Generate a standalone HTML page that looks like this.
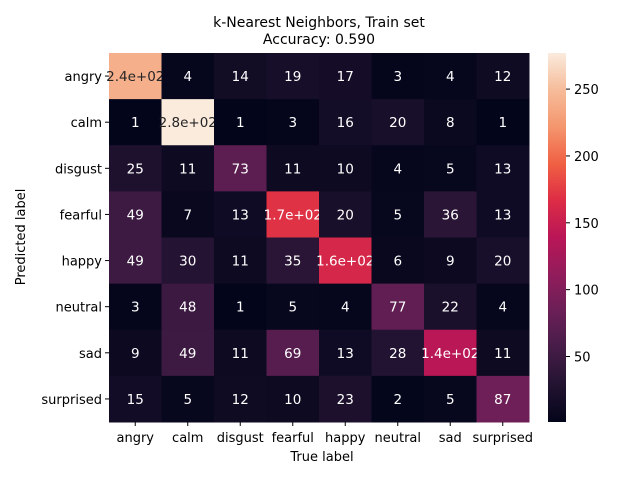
<!DOCTYPE html>
<html><head><meta charset="utf-8"><style>
html,body{margin:0;padding:0;background:#fff;}
svg{display:block;font-family:"DejaVu Sans","Liberation Sans",sans-serif;}
</style></head><body>
<svg id="chart" width="640" height="480" viewBox="0 0 640 480">
<defs><linearGradient id="cbgrad" x1="0" y1="1" x2="0" y2="0"></linearGradient></defs>
<text x="319" y="27" text-anchor="middle" font-size="14">k-Nearest Neighbors, Train set</text>
<text x="319" y="44" text-anchor="middle" font-size="14">Accuracy: 0.590</text>
<g id="cells"></g>
<g id="xticks"></g>
<g id="yticks"></g>
<g id="cbar"></g>
<text x="322" y="461" text-anchor="middle" font-size="13">True label</text>
<text x="0" y="0" text-anchor="middle" font-size="13" transform="translate(25,237) rotate(-90)">Predicted label</text>
</svg>
<script>
const categories = ["angry","calm","disgust","fearful","happy","neutral","sad","surprised"];
const row_angry = [240,4,14,19,17,3,4,12];
const row_calm = [1,277,1,3,16,20,8,1];
const row_disgust = [25,11,73,11,10,4,5,13];
const row_fearful = [49,7,13,170,20,5,36,13];
const row_happy = [49,30,11,35,160,6,9,20];
const row_neutral = [3,48,1,5,4,77,22,4];
const row_sad = [9,49,11,69,13,28,140,11];
const row_surprised = [15,5,12,10,23,2,5,87];
const matrix = [row_angry,row_calm,row_disgust,row_fearful,row_happy,row_neutral,row_sad,row_surprised];
const cbarTicks = [50,100,150,200,250];

const NS="http://www.w3.org/2000/svg";
const X0=109,X1=529,Y0=53,Y1=422;
const flat=matrix.flat();
const vmin=Math.min(...flat), vmax=Math.max(...flat);
const cw=(X1-X0)/categories.length, ch=(Y1-Y0)/categories.length;
const stops=[[0,"#03051A"],[0.1,"#221331"],[0.2,"#451C47"],[0.3,"#6A1F56"],[0.4,"#921C5B"],[0.5,"#B91657"],[0.6,"#DD2C45"],[0.7,"#F06043"],[0.8,"#F4966E"],[0.9,"#F6BC9A"],[1,"#FAEBDD"]];
function hex(h){return [1,3,5].map(i=>parseInt(h.substr(i,2),16));}
function color(v){
  let t=Math.max(0,Math.min(1,(v-vmin)/(vmax-vmin)));
  for(let i=0;i<stops.length-1;i++){
    if(t<=stops[i+1][0]){
      const a=hex(stops[i][1]),b=hex(stops[i+1][1]),f=(t-stops[i][0])/(stops[i+1][0]-stops[i][0]);
      return a.map((c,k)=>Math.round(c+(b[k]-c)*f));
    }
  }
  return hex(stops[stops.length-1][1]);
}
function fmt(v){ if(v>=100){const e=Math.floor(Math.log10(v));return (v/Math.pow(10,e)).toFixed(1)+"e+"+String(e).padStart(2,"0");} return String(v);}
function xs(i){return X0+i*cw;}
function ys(i){return Y0+i*ch;}
const cells=document.getElementById("cells");
matrix.forEach((row,r)=>row.forEach((v,c)=>{
  const rgb=color(v);
  const rect=document.createElementNS(NS,"rect");
  rect.setAttribute("x",xs(c));rect.setAttribute("y",ys(r));
  rect.setAttribute("width",cw+0.5);rect.setAttribute("height",ch+0.5);
  rect.setAttribute("fill","rgb("+rgb.join(",")+")");
  
  
  cells.appendChild(rect);
  const lum=(0.299*rgb[0]+0.587*rgb[1]+0.114*rgb[2])/255;
  const t=document.createElementNS(NS,"text");
  t.setAttribute("x",xs(c)+cw/2);t.setAttribute("y",ys(r)+ch/2+5);
  t.setAttribute("text-anchor","middle");t.setAttribute("font-size","13.5");
  t.setAttribute("fill",lum>0.5?"#262626":"#ffffff");
  t.textContent=fmt(v);
  
  
  cells.appendChild(t);
}));
const xt=document.getElementById("xticks"), yt=document.getElementById("yticks");
categories.forEach((c,i)=>{
  const cx=xs(i)+cw/2;
  const l=document.createElementNS(NS,"line");
  l.setAttribute("x1",cx);l.setAttribute("x2",cx);l.setAttribute("y1",Y1);l.setAttribute("y2",Y1+4);l.setAttribute("stroke","#000");
  
  
  xt.appendChild(l);
  const t=document.createElementNS(NS,"text");
  t.setAttribute("x",cx);t.setAttribute("y",Y1+20);t.setAttribute("text-anchor","middle");t.setAttribute("font-size","13");
  t.textContent=c;
  
  
  xt.appendChild(t);
  const cy=ys(i)+ch/2;
  const l2=document.createElementNS(NS,"line");
  l2.setAttribute("x1",X0-4);l2.setAttribute("x2",X0);l2.setAttribute("y1",cy);l2.setAttribute("y2",cy);l2.setAttribute("stroke","#000");
  
  
  yt.appendChild(l2);
  const t2=document.createElementNS(NS,"text");
  t2.setAttribute("x",X0-7);t2.setAttribute("y",cy+5);t2.setAttribute("text-anchor","end");t2.setAttribute("font-size","13");
  t2.textContent=c;
  
  
  yt.appendChild(t2);
});
const grad=document.getElementById("cbgrad");
for(let i=0;i<=20;i++){
  const s=document.createElementNS(NS,"stop");
  s.setAttribute("offset",(i*5)+"%");
  s.setAttribute("stop-color","rgb("+color(vmin+(vmax-vmin)*i/20).join(",")+")");
  grad.appendChild(s);
}
const CB0=548,CB1=566;
const cb=document.getElementById("cbar");
const cr=document.createElementNS(NS,"rect");
cr.setAttribute("x",CB0);cr.setAttribute("y",Y0);cr.setAttribute("width",CB1-CB0);cr.setAttribute("height",Y1-Y0);cr.setAttribute("fill","url(#cbgrad)");


cb.appendChild(cr);
function cby(v){return Y1-(v-vmin)/(vmax-vmin)*(Y1-Y0);}
cbarTicks.forEach(v=>{
  const y=cby(v);
  const l=document.createElementNS(NS,"line");
  l.setAttribute("x1",CB1);l.setAttribute("x2",CB1+4);l.setAttribute("y1",y);l.setAttribute("y2",y);l.setAttribute("stroke","#000");
  
  
  cb.appendChild(l);
  const t=document.createElementNS(NS,"text");
  t.setAttribute("x",CB1+8);t.setAttribute("y",y+5);t.setAttribute("font-size","13");
  t.textContent=v;
  
  
  cb.appendChild(t);
});
</script>
</body></html>
